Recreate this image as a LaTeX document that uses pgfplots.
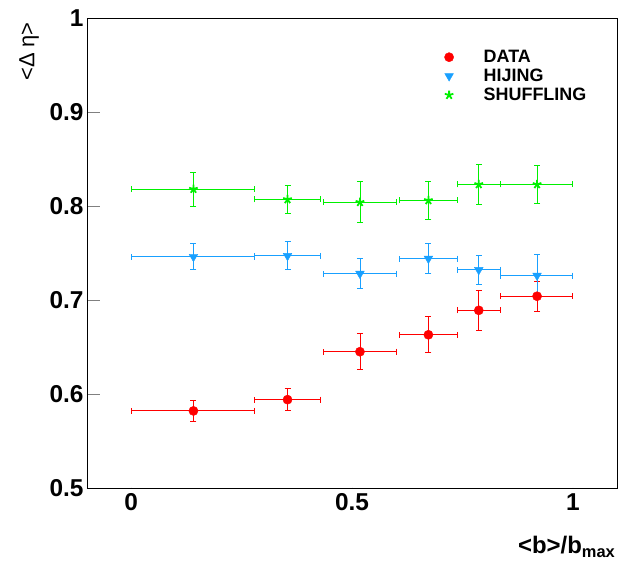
\documentclass[border=0pt]{standalone}
\usepackage{fontspec}
\setmainfont{Liberation Sans}
\usepackage{pgfplots}
\usepackage{pgfplotstable}
\pgfplotsset{compat=1.18}
\definecolor{rootred}{RGB}{255,0,0}
\definecolor{rootblue}{RGB}{25,160,255}
\definecolor{rootgreen}{RGB}{0,240,0}
\pgfplotstableread{
x xm xp y ey
0.141 0.141 0.139 0.582 0.011
0.354 0.074 0.074 0.594 0.012
0.518 0.083 0.082 0.645 0.019
0.673 0.066 0.065 0.663 0.019
0.787 0.049 0.050 0.689 0.021
0.919 0.082 0.081 0.704 0.016
}\datatab
\pgfplotstableread{
x xm xp y ey
0.141 0.141 0.139 0.746 0.014
0.354 0.074 0.074 0.747 0.015
0.518 0.083 0.082 0.728 0.016
0.673 0.066 0.065 0.744 0.016
0.787 0.049 0.050 0.732 0.015
0.919 0.082 0.081 0.726 0.022
}\hijingtab
\pgfplotstableread{
x xm xp y ey
0.141 0.141 0.139 0.818 0.018
0.354 0.074 0.074 0.807 0.015
0.518 0.083 0.082 0.804 0.022
0.673 0.066 0.065 0.806 0.020
0.787 0.049 0.050 0.823 0.021
0.919 0.082 0.081 0.823 0.020
}\shuftab
\begin{document}
\begin{tikzpicture}
\path[use as bounding box] (-87bp,-77bp) rectangle (531bp,488bp);
\begin{axis}[
  at={(0,0)}, anchor=south west,
  scale only axis,
  width=530bp, height=470bp,
  xmin=-0.1, xmax=1.1, ymin=0.5, ymax=1,
  axis line style={line width=0.8bp},
  xtick={0,0.5,1}, ytick={0.5,0.6,0.7,0.8,0.9,1},
  xticklabels={0,0.5,1},
  yticklabels={0.5,0.6,0.7,0.8,0.9,1},
  xtick pos=bottom, ytick pos=left,
  tick align=inside,
  major tick length=13bp,
  x tick style={draw=none},
  y tick style={line width=0.6bp},
  tick label style={font=\bfseries\fontsize{24.5}{24.5}\selectfont},
  xticklabel style={yshift=-2bp},
  yticklabel style={xshift=0bp},
  error bars/error mark=|,
  error bars/error bar style={line width=0.9bp},
  error bars/error mark options={line width=0.9bp, mark size=3bp},
  legend style={draw=none, fill=none, at={(axis cs:0.709,0.968)}, anchor=north west,
    font=\bfseries\fontsize{18}{18}\selectfont, row sep=1bp, inner sep=0pt},
  legend cell align=left,
  legend image code/.code={\draw[#1] plot coordinates {(0.5cm,0cm)};},
  legend style={nodes={inner sep=2bp}},
]
\draw[line width=0.6bp] (axis cs:0,0.5) -- ++(0,5bp);
\draw[line width=0.6bp] (axis cs:0.5,0.5) -- ++(0,5bp);
\draw[line width=0.6bp] (axis cs:1,0.5) -- ++(0,5bp);
\addplot[only marks, color=rootred, mark=*, mark size=4.6bp,
  error bars/.cd, x dir=both, y dir=both, x explicit, y explicit]
  table[x=x, y=y, x error plus=xp, x error minus=xm, y error=ey] {\datatab};
\addlegendentry{\hspace{28bp}DATA}
\addplot[only marks, color=rootblue, mark=triangle*, mark size=5bp,
  mark options={rotate=180},
  error bars/.cd, x dir=both, y dir=both, x explicit, y explicit]
  table[x=x, y=y, x error plus=xp, x error minus=xm, y error=ey] {\hijingtab};
\addlegendentry{\hspace{28bp}HIJING}
\addplot[only marks, color=rootgreen, mark=star, mark size=4.5bp,
  mark options={line width=1.8bp},
  error bars/.cd, x dir=both, y dir=both, x explicit, y explicit]
  table[x=x, y=y, x error plus=xp, x error minus=xm, y error=ey] {\shuftab};
\addlegendentry{\hspace{28bp}SHUFFLING}
\end{axis}
\node[rotate=90, anchor=north east, font=\fontsize{22}{22}\selectfont, inner sep=0pt] at (-68bp,466bp) {<Δ η>};
\node[anchor=base east, font=\bfseries\fontsize{24}{24}\selectfont, inner sep=0pt] at (528bp,-65bp) {<b>/b\raisebox{-4bp}{\fontsize{16.5}{16.5}\selectfont max}};
\end{tikzpicture}
\end{document}
